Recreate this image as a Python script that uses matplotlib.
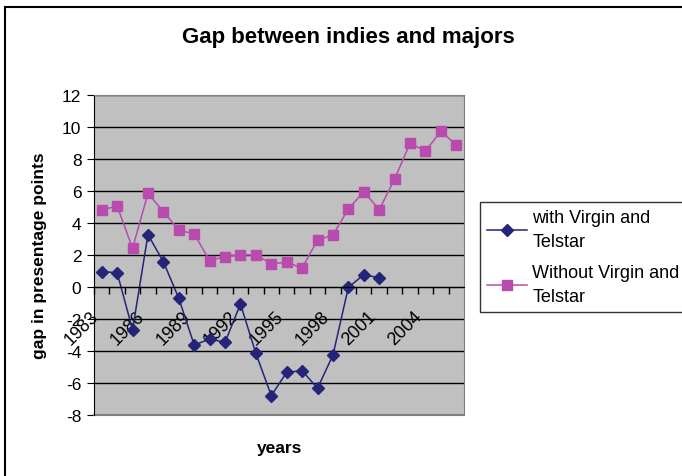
import numpy as np
import matplotlib.pyplot as plt
from matplotlib.patches import Rectangle

plt.rcParams["font.family"] = ["Liberation Sans", "DejaVu Sans"]
plt.rcParams["axes.unicode_minus"] = False

years = list(range(1983, 2007))
with_vt = [0.96, 0.9, -2.67, 3.27, 1.58, -0.71, -3.63, -3.25, -3.46, -1.06,
           -4.15, -6.79, -5.33, -5.23, -6.33, -4.25, -0.02, 0.77, 0.58]
without_vt = [4.81, 5.06, 2.42, 5.85, 4.71, 3.56, 3.31, 1.65, 1.9, 2.0,
              2.0, 1.46, 1.54, 1.19, 2.94, 3.25, 4.88, 5.96, 4.83, 6.75,
              8.98, 8.5, 9.73, 8.88]
tick_years = years[::3]

fig = plt.figure(figsize=(6.82, 4.77), dpi=100)
fig.patches.append(Rectangle((4.5 / 682, -0.1), 1.2, 1 - 7.5 / 477 + 0.1,
                             transform=fig.transFigure, fill=False,
                             edgecolor="black", linewidth=1.5))

ax = fig.add_axes([94 / 682, 61 / 477, 370 / 682, 320 / 477])
ax.set_facecolor("#C0C0C0")

x = np.arange(len(years))
ax.plot(x[:len(with_vt)], with_vt, color="#242478", marker="D", markersize=6,
        linewidth=1.1, label="with Virgin and\nTelstar")
ax.plot(x, without_vt, color="#B94BAE", marker="s", markersize=6.5,
        linewidth=1.1, label="Without Virgin and\nTelstar")

ax.set_xlim(-0.5, len(years) - 0.5)
ax.set_ylim(-8, 12)
ax.set_yticks(range(-8, 13, 2))
ax.yaxis.grid(True, color="black", linewidth=1)
ax.set_axisbelow(True)

ax.spines["bottom"].set_position(("data", 0))
ax.spines["bottom"].set_color("black")
ax.spines["left"].set_color("black")
ax.spines["top"].set_color("#808080")
ax.spines["right"].set_color("#808080")
ax.plot([0, 1], [0, 0], transform=ax.transAxes, color="#808080",
        linewidth=1.5, clip_on=False)

ax.set_xticks(np.arange(len(years)) - 0.5, minor=False)
ax.set_xticklabels([])
ax.tick_params(axis="x", which="major", direction="out", length=5, width=1)
ax.set_xticks([years.index(y) for y in tick_years], minor=True)
ax.set_xticklabels([str(y) for y in tick_years], minor=True, rotation=45,
                   ha="right", va="top", fontsize=13)
ax.tick_params(axis="x", which="minor", length=0, pad=15)
ax.tick_params(axis="y", direction="out", length=5, labelsize=12.5, pad=4)

fig.text(348 / 682, 1 - 38 / 477, "Gap between indies and majors",
         fontsize=16, fontweight="bold", ha="center", va="center")
ax.set_ylabel("gap in presentage points", fontsize=12.5, fontweight="bold",
              labelpad=11)
fig.text(280 / 682, 1 - 448 / 477, "years", fontsize=12.5, fontweight="bold",
         ha="center", va="center")

leg = ax.legend(loc="upper left", bbox_to_anchor=(480 / 682, 1 - 203 / 477),
                bbox_transform=fig.transFigure, fontsize=13, frameon=True,
                fancybox=False, edgecolor="black", borderpad=0.4,
                borderaxespad=0, handlelength=2.2, handletextpad=0.3,
                labelspacing=0.75)
leg.get_frame().set_linewidth(1)
for t in leg.get_texts():
    t.set_linespacing(1.55)

fig.savefig("out.png", dpi=100)
